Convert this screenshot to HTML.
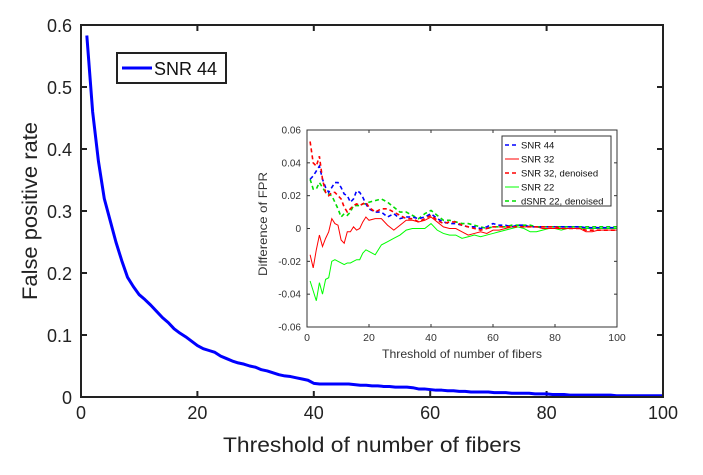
<!DOCTYPE html>
<html><head><meta charset="utf-8"><style>
html,body{margin:0;padding:0;background:#fff;}
svg{display:block;font-family:"Liberation Sans",Arial,sans-serif;}
</style></head><body>
<svg id="chart" width="703" height="475" viewBox="0 0 703 475"></svg>
<script>
// main chart data
const mainValues = [0.583,0.46,0.38,0.32,0.285,0.25,0.22,0.193,0.178,0.165,0.157,0.148,0.138,0.128,0.12,0.11,0.103,0.097,0.09,0.083,0.078,0.075,0.072,0.066,0.062,0.058,0.055,0.053,0.05,0.048,0.044,0.042,0.039,0.036,0.034,0.033,0.031,0.029,0.027,0.022,0.021,0.021,0.021,0.021,0.021,0.021,0.02,0.019,0.019,0.018,0.018,0.017,0.017,0.016,0.016,0.016,0.015,0.013,0.013,0.012,0.011,0.011,0.01,0.01,0.009,0.009,0.008,0.008,0.008,0.008,0.007,0.007,0.007,0.006,0.006,0.006,0.006,0.005,0.005,0.005,0.004,0.004,0.004,0.003,0.003,0.003,0.003,0.003,0.003,0.003,0.003,0.002,0.002,0.002,0.002,0.002,0.002,0.002,0.002,0.002];
const mainXTicks = [0,20,40,60,80,100];
const mainYTicks = [0,0.1,0.2,0.3,0.4,0.5,0.6];
// inset data
const insetX = [1,2,3,4,5,6,7,8,9,10,11,12,13,14,15,16,17,18,19,20,22,24,26,28,30,32,34,36,38,40,42,44,46,48,50,52,54,56,58,60,62,64,66,68,70,72,74,76,78,80,82,84,86,88,90,92,94,96,98,100];
const snr44 = [0.030,0.032,0.035,0.038,0.03,0.025,0.022,0.025,0.028,0.028,0.025,0.021,0.02,0.016,0.018,0.023,0.022,0.019,0.015,0.012,0.010,0.010,0.007,0.009,0.006,0.007,0.007,0.006,0.007,0.009,0.006,0.004,0.003,0.003,0.002,0.001,0.001,0,0.001,0.003,0.002,0.002,0.001,0.002,0.002,0.001,0.001,0.001,0.001,0.001,0.001,0.001,0.001,0.001,0.0005,0.0005,0.0005,0.0005,0.0005,0.0005];
const snr32 = [-0.016,-0.024,-0.013,-0.004,-0.011,-0.006,-0.002,0.006,0.003,0.002,-0.007,-0.009,-0.002,-0.002,0.001,-0.001,0,0.004,0.007,0.005,0.006,0.006,0.002,-0.001,0.002,0.005,0.005,0.004,0.005,0.007,0.004,0.001,0,0,-0.002,-0.004,-0.003,-0.002,-0.003,-0.001,-0.001,0,0.001,0.002,0.001,0.001,0.001,0,0,0,0,0,0,0,-0.002,-0.002,-0.001,-0.001,-0.001,-0.001];
const snr32d = [0.053,0.04,0.038,0.044,0.03,0.022,0.02,0.022,0.022,0.02,0.018,0.013,0.01,0.012,0.014,0.015,0.014,0.015,0.016,0.013,0.01,0.012,0.012,0.01,0.008,0.006,0.006,0.004,0.006,0.008,0.005,0.003,0.004,0.004,0.002,0.001,0,-0.001,0,0.001,0.001,0.001,0.001,0.001,0.001,0.001,0.001,0.001,0.001,0.001,0,0,0,0,-0.001,-0.001,-0.001,-0.001,-0.001,-0.001];
const snr22 = [-0.032,-0.038,-0.044,-0.033,-0.04,-0.031,-0.03,-0.02,-0.019,-0.02,-0.021,-0.022,-0.021,-0.021,-0.02,-0.019,-0.019,-0.015,-0.013,-0.014,-0.016,-0.01,-0.008,-0.006,-0.004,-0.001,0,0,0,0.003,-0.001,-0.003,-0.004,-0.004,-0.006,-0.005,-0.004,-0.005,-0.004,-0.003,-0.002,-0.001,0,0.001,0,-0.002,-0.002,-0.001,0,0,-0.001,0,0,0,0,0,0,0,0,0];
const snr22d = [0.03,0.024,0.024,0.028,0.025,0.022,0.021,0.02,0.016,0.012,0.007,0.009,0.008,0.01,0.014,0.014,0.014,0.015,0.015,0.016,0.017,0.018,0.016,0.013,0.01,0.01,0.008,0.006,0.009,0.011,0.008,0.005,0.005,0.004,0.003,0.003,0.002,0.001,0,0.001,0.001,0.001,0.002,0.002,0.002,0.002,0.001,0.001,0.001,0.001,0.001,0.001,0.001,0.001,0.001,0.001,0.001,0.001,0.001,0.001];
const insetXTicks = [0,20,40,60,80,100];
const insetYTicks = [-0.06,-0.04,-0.02,0,0.02,0.04,0.06];

const NS='http://www.w3.org/2000/svg';
const svg=document.getElementById('chart');
function mk(tag,attrs,parent,text){const e=document.createElementNS(NS,tag);for(const k in attrs)e.setAttribute(k,attrs[k]);if(text!==undefined)e.textContent=text;(parent||svg).appendChild(e);return e;}

// main axes
const M={l:81,r:663,t:25,b:397};
const mx=v=>M.l+(v-0)/100*(M.r-M.l);
const my=v=>M.b-v/0.6*(M.b-M.t);
const mainG=mk('g',{});


mk('rect',{x:M.l,y:M.t,width:M.r-M.l,height:M.b-M.t,fill:'#fff',stroke:'none'},mainG);
mainXTicks.forEach(t=>{
  const x=mx(t);
  mk('line',{x1:x,x2:x,y1:M.b,y2:M.b-6,stroke:'#222','stroke-width':2},mainG);
  mk('line',{x1:x,x2:x,y1:M.t,y2:M.t+6,stroke:'#222','stroke-width':2},mainG);
  const tx=mk('text',{x:x,y:M.b+22,'text-anchor':'middle','font-size':18,fill:'#222'},mainG,String(t));
  
  
});
mainYTicks.forEach(t=>{
  const y=my(t);
  mk('line',{x1:M.l,x2:M.l+6,y1:y,y2:y,stroke:'#222','stroke-width':2},mainG);
  mk('line',{x1:M.r,x2:M.r-6,y1:y,y2:y,stroke:'#222','stroke-width':2},mainG);
  const tx=mk('text',{x:M.l-9,y:y+7,'text-anchor':'end','font-size':18,fill:'#222'},mainG,String(t));
  
  
});
const mainPts=mainValues.map((v,i)=>mx(i+1)+','+my(v)).join(' ');
const ml=mk('polyline',{points:mainPts,fill:'none',stroke:'#0000ff','stroke-width':3,'stroke-linejoin':'round'},mainG);


mk('rect',{x:M.l,y:M.t,width:M.r-M.l,height:M.b-M.t,fill:'none',stroke:'#222','stroke-width':2},mainG);
const xt=mk('text',{x:372,y:452,'text-anchor':'middle','font-size':21,fill:'#222',textLength:298,lengthAdjust:'spacingAndGlyphs'},mainG,'Threshold of number of fibers');


const yt=mk('text',{x:0,y:0,'text-anchor':'middle','font-size':21,fill:'#222',textLength:178,lengthAdjust:'spacingAndGlyphs',transform:'translate(37,211) rotate(-90)'},mainG,'False positive rate');


// main legend
const lg=mk('g',{},mainG);


mk('rect',{x:117,y:53,width:109,height:30,fill:'#fff',stroke:'#222','stroke-width':2},lg);
mk('line',{x1:122,x2:152,y1:68,y2:68,stroke:'#0000ff','stroke-width':3},lg);
mk('text',{x:154,y:75,'font-size':18,fill:'#111'},lg,'SNR 44');

// inset
const I={l:307,r:617,t:130,b:327};
const ix=v=>I.l+v/100*(I.r-I.l);
const iy=v=>I.b-(v+0.06)/0.12*(I.b-I.t);
const ig=mk('g',{});


mk('rect',{x:I.l,y:I.t,width:I.r-I.l,height:I.b-I.t,fill:'#fff',stroke:'none'},ig);
insetXTicks.forEach(t=>{
  const x=ix(t);
  mk('line',{x1:x,x2:x,y1:I.b,y2:I.b-3,stroke:'#333','stroke-width':1},ig);
  mk('line',{x1:x,x2:x,y1:I.t,y2:I.t+3,stroke:'#333','stroke-width':1},ig);
  const tx=mk('text',{x:x,y:I.b+14,'text-anchor':'middle','font-size':10.5,fill:'#333'},ig,String(t));
  
  
});
insetYTicks.forEach(t=>{
  const y=iy(t);
  mk('line',{x1:I.l,x2:I.l+3,y1:y,y2:y,stroke:'#333','stroke-width':1},ig);
  mk('line',{x1:I.r,x2:I.r-3,y1:y,y2:y,stroke:'#333','stroke-width':1},ig);
  const tx=mk('text',{x:I.l-6,y:y+3.5,'text-anchor':'end','font-size':10,fill:'#333'},ig,t===0?'0':t.toFixed(2));
  
  
});
function series(vals,color,dash,name,w){
  const p=vals.map((v,i)=>ix(insetX[i])+','+iy(v)).join(' ');
  const a={points:p,fill:'none',stroke:color,'stroke-width':w};
  if(dash)a['stroke-dasharray']=dash;
  const l=mk('polyline',a,ig);
  
  
}
series(snr22,'#00ff00',null,'snr22-line',1);
series(snr32,'#ff0000',null,'snr32-line',1);
series(snr22d,'#00dd00','4,3','snr22-denoised-line',1.6);
series(snr44,'#0000ff','4,3','snr44-dashed-line',1.6);
series(snr32d,'#ff0000','4,3','snr32-denoised-line',1.6);
mk('rect',{x:I.l,y:I.t,width:I.r-I.l,height:I.b-I.t,fill:'none',stroke:'#333','stroke-width':1},ig);
const ixt=mk('text',{x:462,y:358,'text-anchor':'middle','font-size':12,fill:'#333',textLength:160,lengthAdjust:'spacingAndGlyphs'},ig,'Threshold of number of fibers');


const iyt=mk('text',{x:0,y:0,'text-anchor':'middle','font-size':12,fill:'#333',textLength:104,lengthAdjust:'spacingAndGlyphs',transform:'translate(267,224) rotate(-90)'},ig,'Difference of FPR');


// inset legend
const il=mk('g',{},ig);


mk('rect',{x:502,y:136,width:109,height:70,fill:'#fff',stroke:'#333','stroke-width':1},il);
const entries=[['SNR 44','#0000ff','4,3'],['SNR 32','#ff0000',null],['SNR 32, denoised','#ff0000','4,3'],['SNR 22','#00ff00',null],['dSNR 22, denoised','#00dd00','4,3']];
entries.forEach((e,i)=>{
  const y=145+i*14;
  const a={x1:505,x2:519,y1:y,y2:y,stroke:e[1],'stroke-width':e[2]?1.6:1};
  if(e[2])a['stroke-dasharray']=e[2];
  mk('line',a,il);
  const t=mk('text',{x:521,y:y+3.5,'font-size':9.5,fill:'#111'},il,e[0]);
  
  
});
</script>
</body></html>
